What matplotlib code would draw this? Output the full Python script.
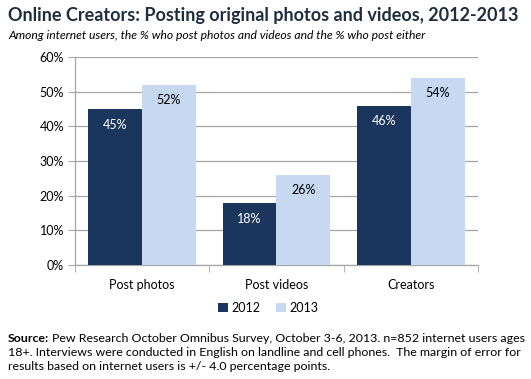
import numpy as np
import matplotlib.pyplot as plt

categories = ["Post photos", "Post videos", "Creators"]
years = ["2012", "2013"]
vals_2012 = [45, 18, 46]
vals_2013 = [52, 26, 54]
yticks = [0, 10, 20, 30, 40, 50, 60]

DARK = "#1b365d"
LIGHT = "#c6d9f1"
GRID = "#a6a6a6"

plt.rcParams['font.family'] = ['Lato', 'DejaVu Sans']

fig = plt.figure(figsize=(5.31, 3.79), dpi=100)
ax = fig.add_axes([0.1412, 0.3008, 0.7590, 0.5488])

x = np.arange(len(categories))
w = 0.4
b1 = ax.bar(x - w / 2, vals_2012, w, color=DARK, label=years[0], zorder=3)
b2 = ax.bar(x + w / 2, vals_2013, w, color=LIGHT, label=years[1], zorder=3)

for rect, v in zip(b1, vals_2012):
    ax.text(rect.get_x() + rect.get_width() / 2, v - 4.6, f"{v}%",
            ha="center", va="center", color="white", fontsize=9, zorder=4)
for rect, v in zip(b2, vals_2013):
    ax.text(rect.get_x() + rect.get_width() / 2, v - 4.4, f"{v}%",
            ha="center", va="center", color="black", fontsize=9, zorder=4)

ax.set_xlim(-0.5, 2.5)
ax.set_ylim(0, 60)
ax.set_yticks(yticks)
ax.set_yticklabels([f"{t}%" for t in yticks], fontsize=9)
ax.yaxis.grid(True, color=GRID, linewidth=0.9, zorder=0)

ax.set_xticks(x)
ax.set_xticklabels(categories, fontsize=9)
ax.tick_params(axis="x", length=0, pad=10)
ax.set_xticks([-0.5, 0.5, 1.5, 2.5], minor=True)
ax.tick_params(axis="x", which="minor", length=5, color=GRID)
ax.tick_params(axis="y", length=5, color=GRID, pad=3)

for s in ["top", "right"]:
    ax.spines[s].set_visible(False)
for s in ["left", "bottom"]:
    ax.spines[s].set_color(GRID)
    ax.spines[s].set_linewidth(0.9)

fig.legend(handles=[b1, b2], labels=years, loc="center", bbox_to_anchor=(0.505, 0.188),
           ncol=2, frameon=False, fontsize=9, handlelength=0.8, handleheight=0.8,
           handletextpad=0.3, columnspacing=1.2)

fig.text(0.015, 0.945, "Online Creators: Posting original photos and videos, 2012-2013",
         fontsize=13, fontweight="bold", color="#1f2d3d")
fig.text(0.015, 0.897, "Among internet users, the % who post photos and videos and the % who post either",
         fontsize=8.7, style="italic")

# source note: bold lead-in, then the rest on the same baseline
src_fs = 8.9
base, step = 0.024, 0.037
lead = fig.text(0.015, base + 2 * step, "Source:", fontsize=src_fs, fontweight="bold")
fig.canvas.draw()
bb = lead.get_window_extent().transformed(fig.transFigure.inverted())
fig.text(bb.x1 + 0.006, base + 2 * step,
         "Pew Research October Omnibus Survey, October 3-6, 2013. n=852 internet users ages",
         fontsize=src_fs)
fig.text(0.015, base + step,
         "18+. Interviews were conducted in English on landline and cell phones.  The margin of error for",
         fontsize=src_fs)
fig.text(0.015, base,
         "results based on internet users is +/- 4.0 percentage points.",
         fontsize=src_fs)

fig.savefig("out.png", dpi=100)
